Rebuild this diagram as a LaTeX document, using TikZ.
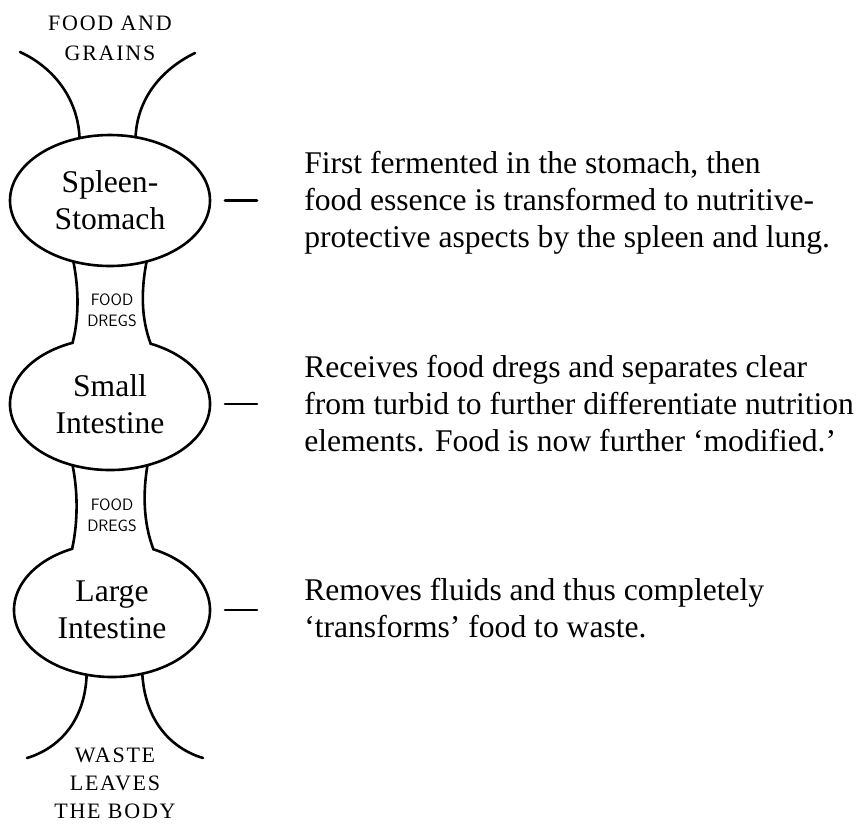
\documentclass[tikz,border=0pt]{standalone}
\usepackage{fontspec}
\setmainfont{Liberation Serif}
\usetikzlibrary{shapes,positioning}

\begin{document}
\begin{tikzpicture}[x=1pt,y=1pt,line width=2.6pt,line cap=round,
  organ/.style={ellipse,minimum width=200pt,minimum height=131pt,inner sep=0pt,outer sep=0pt,align=center,font=\fontsize{31.6}{37}\selectfont},
  note/.style={anchor=west,inner sep=0pt,align=left,font=\fontsize{31.6}{37}\selectfont},
  dregs/.style={align=center,inner sep=0pt,font=\sffamily\fontsize{16.5}{21}\selectfont},
  ends/.style={align=center,inner sep=0pt}]
\useasboundingbox (0,0) rectangle (858,-823);

% organs
\node[organ,draw] (stomach) at (110,-200.5) {Spleen-\\Stomach};
\node[organ] (small) at (110,-404) {Small\\Intestine};
\node[organ,minimum width=196pt,minimum height=134pt] (large) at (112,-610) {Large\\Intestine};

% what goes in and what comes out
\node[ends,font=\fontsize{22}{30}\selectfont\addfontfeature{LetterSpace=8}] (food) at (110,-38) {FOOD AND\\GRAINS};
\node[ends,font=\fontsize{22}{28}\selectfont\addfontfeature{LetterSpace=8}] (waste) at (115,-783) {WASTE\\LEAVES\\THE BODY};
\node[dregs] (dregs1) at (112,-310.5) {FOOD\\DREGS};
\node[dregs] (dregs2) at (112,-515.5) {FOOD\\DREGS};

% notes
\node[note] (note1) at (303,-203) {First fermented in the stomach, then\\food essence is transformed to nutritive-\\protective aspects by the spleen and lung.};
\node[note] (note2) at (303,-404) {Receives food dregs and separates clear\\from turbid to further differentiate nutrition\\elements. Food is now further ‘modified.’};
\node[note] (note3) at (303,-608) {Removes fluids and thus completely\\‘transforms’ food to waste.};

\draw[shorten <=15pt,shorten >=46pt] (stomach.east) -- (stomach.east -| note1.west);
\draw[shorten <=15pt,shorten >=46pt] (small.east) -- (small.east -| note2.west);
\draw[shorten <=15pt,shorten >=46pt] (large.east) -- (large.east -| note3.west);

% points where the tubes meet the open ellipses
\path (small.center) ++(112:100 and 66) coordinate (small-l);
\path (small.center) ++(248:100 and 66) coordinate (small-bl);
\path (small.center) ++(292:100 and 66) coordinate (small-br);
\path (large.center) ++(114:98 and 67) coordinate (large-l);
\path (large.center) ++(255:98 and 67) coordinate (large-bl);
\path (large.center) ++(288:98 and 67) coordinate (large-br);

% stomach -> small intestine
\draw (stomach.239) .. controls (79,-290) and (79,-318) .. (small-l)
  arc[start angle=112,end angle=426,x radius=100,y radius=66]
  .. controls (141,-318) and (141,-290) .. (stomach.301);

% small intestine -> large intestine
\draw (small-bl) .. controls (78,-492) and (78,-522) .. (large-l)
  arc[start angle=114,end angle=425,x radius=98,y radius=67]
  .. controls (143,-522) and (143,-492) .. (small-br);

% funnels in and out
\coordinate (in-l) at (20,-52);
\coordinate (in-r) at (195,-53);
\coordinate (out-l) at (27,-758);
\coordinate (out-r) at (203,-758);
\draw (in-l) .. controls (55,-68) and (78,-100) .. (stomach.116);
\draw (in-r) .. controls (160,-70) and (137,-100) .. (stomach.68);
\draw (large-bl) .. controls (85,-720) and (60,-748) .. (out-l);
\draw (large-br) .. controls (145,-720) and (170,-748) .. (out-r);
\end{tikzpicture}
\end{document}
